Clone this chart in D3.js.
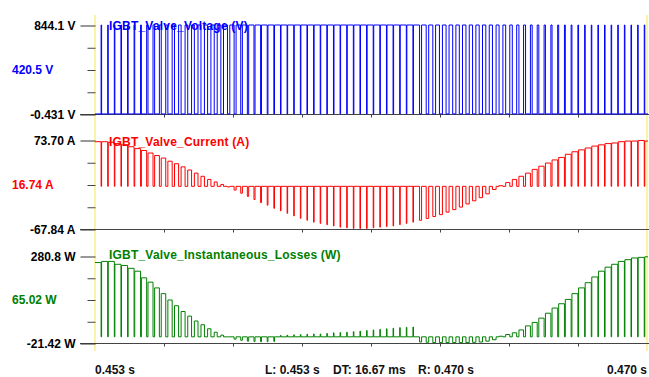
<!DOCTYPE html>
<html>
<head>
<meta charset="utf-8">
<script src="https://cdn.jsdelivr.net/npm/d3@7/dist/d3.min.js"></script>
<style>
    body { margin: 0; background: #fff; }
    svg { display: block; font-family: Arial, "Liberation Sans", sans-serif; }
</style>
</head>
<body>
<svg id="chart" width="649" height="377"></svg>
<script>
// time window between the two cursors (s), one entry below per 5 kHz carrier period
var tStart = 0.4533333, tEnd = 0.470, carrierPeriod = 0.0002;
var timeTicks = [0.4554167, 0.4575, 0.4595833, 0.4616667, 0.46375, 0.4658333, 0.4679167];

// fraction of each carrier period the valve conducts
var dutyOn = [0.92, 0.92, 0.92, 0.92, 0.92, 0.9, 0.88, 0.8, 0.76, 0.72,
    0.68, 0.65, 0.62, 0.6, 0.58, 0.55, 0.52, 0.5, 0.45, 0.4,
    0.35, 0.3, 0.25, 0.2, 0.16, 0.13, 0.11, 0.1, 0.08, 0.08,
    0.08, 0.08, 0.08, 0.08, 0.08, 0.08, 0.08, 0.08, 0.08, 0.08,
    0.08, 0.08, 0.08, 0.08, 0.08, 0.08, 0.08, 0.08, 0.08, 0.3,
    0.38, 0.42, 0.45, 0.45, 0.48, 0.48, 0.5, 0.5, 0.5, 0.52,
    0.55, 0.58, 0.62, 0.66, 0.7, 0.73, 0.76, 0.8, 0.82, 0.85,
    0.87, 0.88, 0.9, 0.92, 0.92, 0.92, 0.92, 0.92, 0.92, 0.92,
    0.92, 0.92, 0.92, 0.92];

// voltage levels (V)
var voltageBlocking = 844.1, voltageConducting = 0;

// current while conducting, per carrier period (A)
var currentPeak = [71, 71, 70, 68, 66, 63, 60, 57, 53, 49,
    45, 40, 36, 31, 26, 21, 16, 11, 7, 3,
    -1, -6, -11, -16, -21, -26, -30, -35, -39, -43,
    -47, -51, -54, -57, -59, -61, -63, -65, -66, -67,
    -67, -67, -66, -65, -64, -63, -61, -59, -57, -54,
    -51, -48, -45, -41, -37, -33, -28, -23, -18, -12,
    -5, 1, 6, 11, 16, 21, 27, 32, 37, 42,
    46, 51, 55, 58, 61, 64, 66, 68, 69, 71,
    72, 72, 73, 72];

// instantaneous losses while conducting, per carrier period (W)
var lossPeak = [258, 262, 262, 252, 248, 238, 228, 205, 190, 170,
    150, 128, 108, 88, 72, 55, 42, 28, 16, 6,
    0, -8, -12, -15, -16, -17, -17, -16, 5, 6,
    7, 8, 9, 10, 10, 12, 14, 15, 16, 18,
    20, 22, 24, 26, 28, 30, 32, 33, 34, -18,
    -19, -20, -20, -20, -20, -20, -20, -19, -18, -15,
    -10, 2, 8, 14, 24, 38, 50, 65, 82, 100,
    115, 130, 150, 170, 188, 208, 228, 242, 252, 262,
    268, 274, 276, 278];

// panel texts and ranges
var panelTitles = ["IGBT_Valve_Voltage (V)", "IGBT_Valve_Current (A)", "IGBT_Valve_Instantaneous_Losses (W)"];
var panelColors = ["#0000ff", "#ff0000", "#008000"];
var yMax = [844.1, 73.70, 280.8];
var yMin = [-0.431, -67.84, -21.42];
var maxLabels = ["844.1 V", "73.70 A", "280.8 W"];
var minLabels = ["-0.431 V", "-67.84 A", "-21.42 W"];
var cursorLabels = ["420.5 V", "16.74 A", "65.02 W"];
var footLeft = "0.453 s", footRight = "0.470 s";
var footCursor = ["L: 0.453 s", "DT: 16.67 ms", "R: 0.470 s"];

// layout
var panelTop = [25, 140, 256];
var panelBottom = [114, 229, 343];
var titleY = [29.5, 145.5, 259];
var plotLeft = 95, plotRight = 647;

var svg = d3.select("#chart");

var x = d3.scaleLinear().domain([tStart, tEnd]).range([plotLeft, plotRight]);

svg.append("defs").append("clipPath")
    .attr("id", "plotClip")
    .append("rect")
    .attr("x", plotLeft).attr("y", 0)
    .attr("width", plotRight - plotLeft + 1).attr("height", 377);

// cursors
[plotLeft, plotRight].forEach(function (cx) {
    svg.append("line")
        .attr("x1", cx).attr("x2", cx)
        .attr("y1", 15).attr("y2", 351)
        .attr("stroke", "#fbf3a6")
        .attr("stroke-width", 2);
});

// step wave: conducting level for dutyOn of the period, then blocking level
function buildWave(onVal, offVal) {
    var pts = [];
    dutyOn.forEach(function (d, i) {
        var t0 = tStart + i * carrierPeriod;
        var t1 = t0 + d * carrierPeriod;
        var t2 = t0 + carrierPeriod;
        var on = (typeof onVal === "number") ? onVal : onVal[i];
        pts.push([t0, on], [t1, on], [t1, offVal], [t2, offVal]);
    });
    return pts;
}

var waves = [
    buildWave(voltageConducting, voltageBlocking),
    buildWave(currentPeak, 0),
    buildWave(lossPeak, 0)
];

panelTitles.forEach(function (title, p) {
    var y = d3.scaleLinear().domain([yMin[p], yMax[p]]).range([panelBottom[p], panelTop[p]]);
    var g = svg.append("g");

    // baseline with time ticks
    g.append("line")
        .attr("x1", 80).attr("x2", 649)
        .attr("y1", panelBottom[p] + 0.5).attr("y2", panelBottom[p] + 0.5)
        .attr("stroke", "#444");

    var xAxis = d3.axisBottom(x).tickValues(timeTicks).tickSize(3).tickFormat("");
    g.append("g")
        .attr("transform", "translate(0," + (panelBottom[p] + 0.5) + ")")
        .attr("color", "#444")
        .call(xAxis)
        .call(function (s) { s.select(".domain").remove(); });

    // minor y ticks
    var span = yMax[p] - yMin[p];
    var minor = [yMin[p] + span * 0.25, yMin[p] + span * 0.5, yMin[p] + span * 0.75];
    g.append("g")
        .attr("transform", "translate(" + (plotLeft + 0.5) + ",0.5)")
        .attr("color", "#444")
        .call(d3.axisLeft(y).tickValues(minor).tickSize(8).tickFormat(""))
        .call(function (s) { s.select(".domain").remove(); });

    // major y ticks with end labels
    var labels = [minLabels[p], maxLabels[p]];
    var yAxis = d3.axisLeft(y).tickValues([yMin[p], yMax[p]]).tickSize(15).tickPadding(5)
        .tickFormat(function (d, i) { return labels[i]; });
    g.append("g")
        .attr("transform", "translate(" + (plotLeft + 0.5) + ",0.5)")
        .attr("color", "#333")
        .call(yAxis)
        .call(function (s) {
            s.select(".domain").remove();
            s.selectAll("text")
                .attr("fill", "#000")
                .style("font-size", "12px")
                .style("font-weight", "bold")
                .style("font-family", "Arial, 'Liberation Sans', sans-serif");
        });

    // cursor value
    g.append("text")
        .attr("x", 12)
        .attr("y", (panelTop[p] + panelBottom[p]) / 2)
        .attr("dy", "0.36em")
        .attr("fill", panelColors[p])
        .style("font-size", "12px")
        .style("font-weight", "bold")
        .text(cursorLabels[p]);

    // waveform
    var line = d3.line()
        .x(function (d) { return x(d[0]); })
        .y(function (d) { return y(d[1]); });

    g.append("path")
        .datum(waves[p])
        .attr("clip-path", "url(#plotClip)")
        .attr("fill", "none")
        .attr("stroke", panelColors[p])
        .attr("stroke-width", 1)
        .attr("d", line);

    // signal name
    g.append("text")
        .attr("x", 109)
        .attr("y", titleY[p])
        .attr("fill", panelColors[p])
        .style("font-size", "12px")
        .style("font-weight", "bold")
        .style("letter-spacing", "0.2px")
        .text(title);
});

// footer
var foot = svg.append("g")
    .style("font-size", "12px")
    .style("font-weight", "bold")
    .attr("fill", "#111");

foot.append("text").attr("x", 95).attr("y", 374).text(footLeft);
foot.append("text").attr("x", 647).attr("y", 374).attr("text-anchor", "end").text(footRight);
var cursorX = [265, 333, 418];
footCursor.forEach(function (s, i) {
    foot.append("text").attr("x", cursorX[i]).attr("y", 374).text(s);
});
</script>
</body>
</html>
